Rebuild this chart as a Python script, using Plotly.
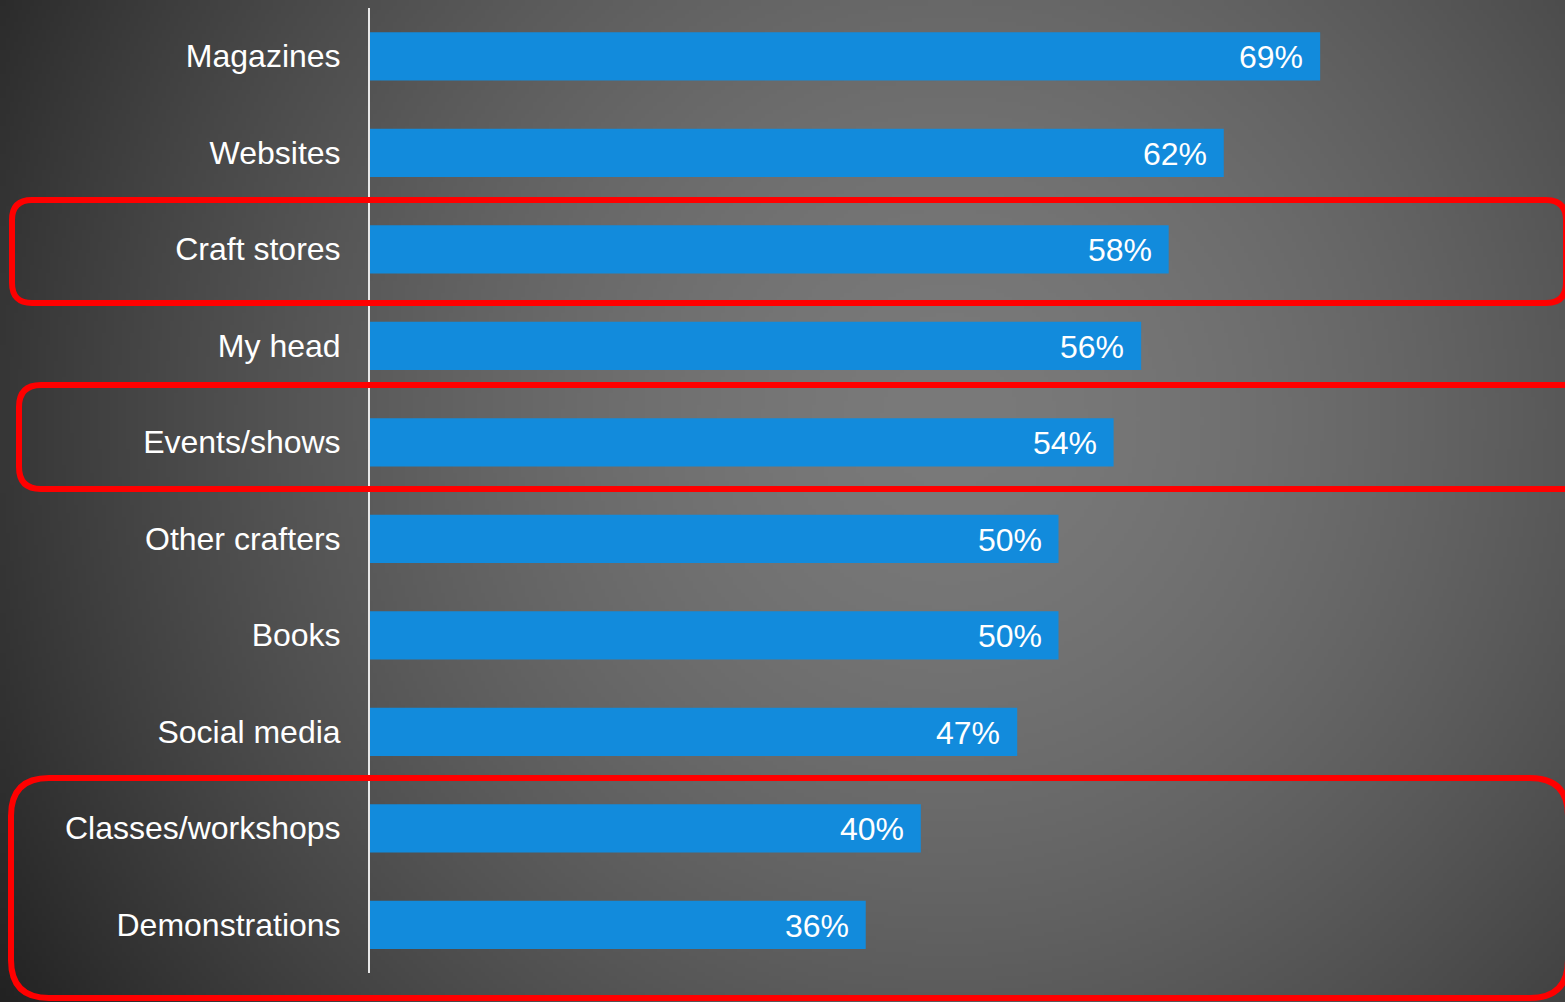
import base64
import struct
import zlib

import numpy as np
import plotly.graph_objects as go

# ---- data -------------------------------------------------------------
categories = [
    "Magazines",
    "Websites",
    "Craft stores",
    "My head",
    "Events/shows",
    "Other crafters",
    "Books",
    "Social media",
    "Classes/workshops",
    "Demonstrations",
]
shares = [69, 62, 58, 56, 54, 50, 50, 47, 40, 36]
value_labels = [f"{v}%" for v in shares]

# ---- canvas geometry (pixels) -----------------------------------------
W, H = 1565, 1002
M_L, M_R, M_T, M_B = 370, 0, 8, 29
PLOT_W = W - M_L - M_R
PLOT_H = H - M_T - M_B
X_MAX = 86.78

BAR_COLOR = "#128bdc"
FONT = "Liberation Sans, Arial, sans-serif"


def px_to_paper(px, py):
    return (px - M_L) / PLOT_W, (H - M_B - py) / PLOT_H


def png_data_uri(gray):
    """Encode a 2-D uint8 array as a grayscale PNG data URI."""
    h, w = gray.shape
    raw = b"".join(b"\x00" + gray[i].tobytes() for i in range(h))

    def chunk(tag, data):
        body = tag + data
        return struct.pack(">I", len(data)) + body + struct.pack(">I", zlib.crc32(body) & 0xFFFFFFFF)

    png = (
        b"\x89PNG\r\n\x1a\n"
        + chunk(b"IHDR", struct.pack(">IIBBBBB", w, h, 8, 0, 0, 0, 0))
        + chunk(b"IDAT", zlib.compress(raw, 9))
        + chunk(b"IEND", b"")
    )
    return "data:image/png;base64," + base64.b64encode(png).decode()


# radial grey backdrop, lighter toward the centre-right
gw, gh = 392, 251
gx = (np.arange(gw) + 0.5) * W / gw
gy = (np.arange(gh) + 0.5) * H / gh
XX, YY = np.meshgrid(gx, gy)
dist = np.hypot(XX - 950, YY - 420)
shade = 122 - 24 * (dist / 500) ** 1.62
backdrop = np.clip(shade, 0, 255).astype(np.uint8)


def rounded_rect(x0, y0, x1, y1, r):
    p = lambda x, y: "{:.5f},{:.5f}".format(*px_to_paper(x, y))
    path = (
        f"M {p(x0 + r, y0)} L {p(x1 - r, y0)} Q {p(x1, y0)} {p(x1, y0 + r)} "
        f"L {p(x1, y1 - r)} Q {p(x1, y1)} {p(x1 - r, y1)} "
        f"L {p(x0 + r, y1)} Q {p(x0, y1)} {p(x0, y1 - r)} "
        f"L {p(x0, y0 + r)} Q {p(x0, y0)} {p(x0 + r, y0)} Z"
    )
    return dict(
        type="path",
        path=path,
        xref="paper",
        yref="paper",
        line=dict(color="#ff0000", width=6),
        fillcolor="rgba(0,0,0,0)",
        layer="above",
    )


fig = go.Figure(
    go.Bar(
        x=shares,
        y=categories,
        orientation="h",
        width=0.5,
        marker=dict(color=BAR_COLOR, line=dict(width=0)),
        hoverinfo="skip",
    )
)

for cat, val, lab in zip(categories, shares, value_labels):
    fig.add_annotation(
        x=val,
        y=cat,
        text=lab,
        showarrow=False,
        xanchor="right",
        yanchor="middle",
        xshift=-15,
        yshift=-1,
        font=dict(family=FONT, size=32, color="white"),
    )

# highlight frames around selected sources
fig.update_layout(
    shapes=[
        rounded_rect(12, 200, 1566, 303, 20),
        rounded_rect(19, 385, 1585, 489, 22),
        rounded_rect(11, 778, 1568, 998, 38),
    ]
)

x_left, y_top = px_to_paper(0, 0)
fig.add_layout_image(
    dict(
        source=png_data_uri(backdrop),
        xref="paper",
        yref="paper",
        x=x_left,
        y=y_top,
        sizex=W / PLOT_W,
        sizey=H / PLOT_H,
        xanchor="left",
        yanchor="top",
        sizing="stretch",
        layer="below",
    )
)

fig.update_layout(
    width=W,
    height=H,
    margin=dict(l=M_L, r=M_R, t=M_T, b=M_B, pad=0),
    paper_bgcolor="#4a4a4a",
    plot_bgcolor="rgba(0,0,0,0)",
    showlegend=False,
    bargap=0.5,
    font=dict(family=FONT, color="white"),
    xaxis=dict(
        range=[0, X_MAX],
        visible=False,
        showgrid=False,
        zeroline=False,
        fixedrange=True,
    ),
    yaxis=dict(
        type="category",
        categoryorder="array",
        categoryarray=categories,
        range=[9.5, -0.5],
        showgrid=False,
        zeroline=False,
        showline=True,
        linecolor="#e8e8e8",
        linewidth=2,
        ticks="",
        ticklabelstandoff=21,
        tickfont=dict(family=FONT, size=32, color="white"),
        fixedrange=True,
    ),
)

fig.write_html("out.html", config={"displayModeBar": False})
